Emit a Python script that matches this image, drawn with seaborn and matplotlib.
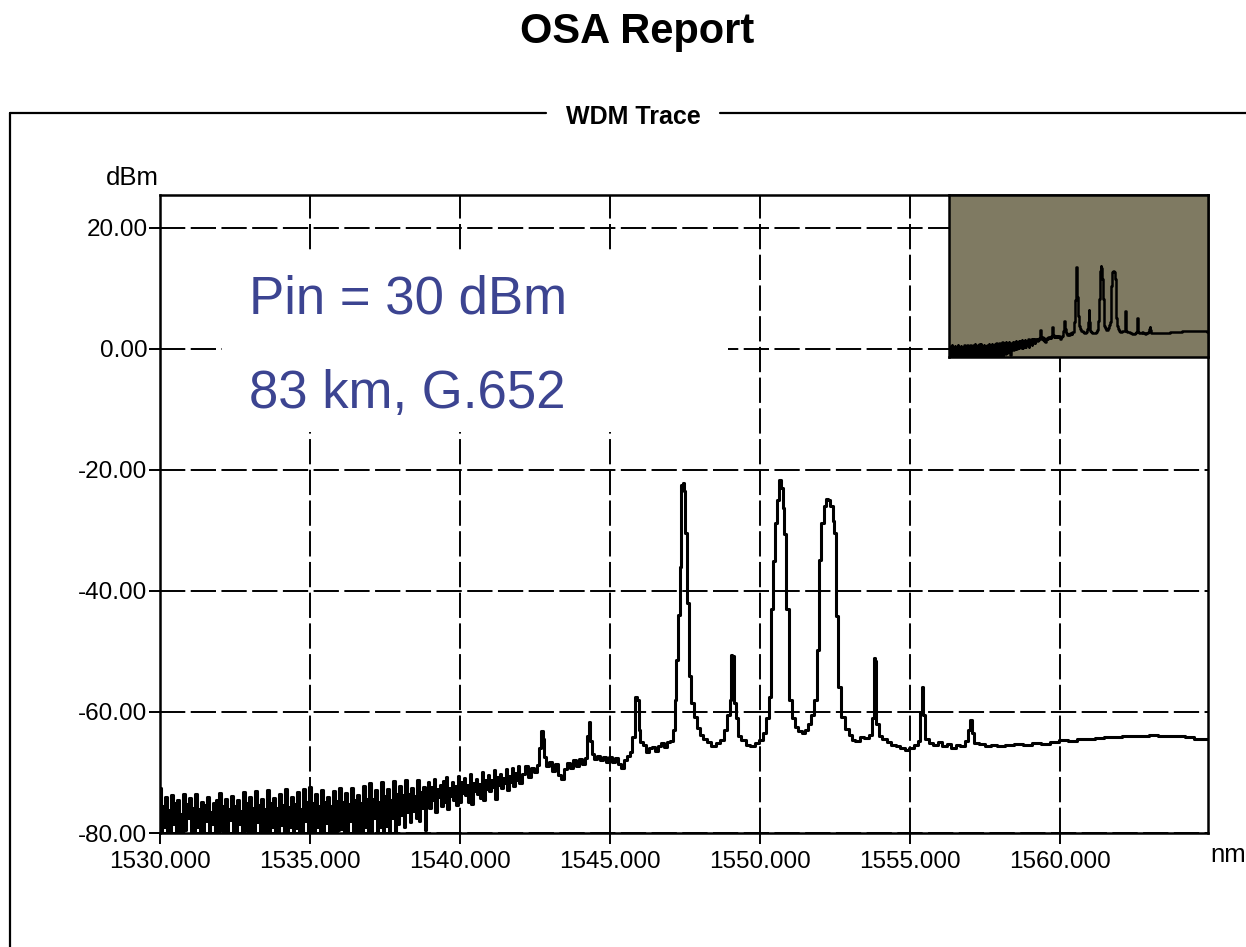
import numpy as np
import pandas as pd
import matplotlib
matplotlib.use("Agg")
import matplotlib.pyplot as plt
import seaborn as sns
from matplotlib.lines import Line2D
from matplotlib.patches import Rectangle

# ---------------- data ----------------
# noisy part of the trace, sampled every 0.05 nm from 1530.00 nm (one row = 1 nm)
noise_start_nm = 1530.0
noise_step_nm = 0.05
noise_dbm = [
    -72.6, -80.5, -75.5, -79.0, -74.0, -81.0, -76.2, -80.5, -73.8, -78.5, -75.0, -81.0, -74.5, -80.0, -76.8, -81.0, -73.6, -79.5, -75.2, -77.5,
    -74.2, -81.0, -75.8, -80.5, -73.5, -79.0, -76.0, -81.0, -74.8, -80.5, -75.4, -78.0, -74.0, -81.0, -76.5, -78.5, -75.0, -81.0, -74.6, -80.5,
    -73.4, -79.5, -75.6, -81.0, -74.3, -80.0, -76.1, -77.8, -73.9, -81.0, -75.5, -80.5, -74.6, -78.5, -76.3, -81.0, -73.2, -79.5, -75.0, -80.5,
    -74.0, -81.0, -75.8, -80.0, -73.1, -78.2, -75.3, -81.0, -74.4, -80.5, -76.0, -79.5, -72.9, -81.0, -75.1, -79.0, -74.2, -80.5, -75.9, -81.0,
    -73.5, -78.6, -75.4, -81.0, -72.8, -80.5, -75.7, -79.0, -74.0, -81.0, -75.2, -79.2, -73.3, -80.5, -76.0, -81.0, -72.7, -78.0, -74.9, -80.5,
    -72.4, -81.0, -75.1, -80.0, -73.6, -79.0, -75.5, -81.0, -72.9, -80.5, -74.8, -78.4, -74.1, -81.0, -75.6, -80.0, -73.0, -81.0, -74.7, -79.5,
    -72.6, -79.3, -74.9, -81.0, -73.4, -80.5, -75.2, -78.0, -72.5, -81.0, -74.6, -79.5, -73.8, -81.0, -75.0, -80.5, -72.3, -79.0, -74.4, -81.0,
    -71.8, -81.0, -74.3, -77.6, -72.9, -80.5, -74.8, -79.0, -71.6, -81.0, -73.9, -78.8, -72.7, -80.5, -74.5, -77.5, -71.4, -80.2, -73.6, -78.5,
    -72.2, -77.0, -73.8, -79.0, -71.3, -76.5, -73.5, -78.2, -72.5, -76.4, -73.9, -77.5, -71.2, -78.0, -73.2, -75.8, -72.4, -79.5, -73.0, -71.6,
    -75.8, -72.4, -74.6, -71.0, -76.5, -72.8, -74.1, -72.0, -75.6, -71.4, -74.8, -70.8, -76.0, -72.6, -73.9, -71.5, -74.5, -72.2, -75.3, -70.6,
    -74.8, -71.6, -73.4, -70.9, -73.8, -72.0, -74.9, -70.2, -75.2, -71.8, -73.1, -71.0, -73.5, -71.9, -74.2, -70.0, -74.6, -71.3, -72.8, -70.4,
    -73.0, -71.2, -72.4, -69.6, -74.3, -70.8, -72.0, -70.2, -72.6, -70.9, -71.8, -69.5, -72.9, -70.6, -71.5, -69.3, -72.2, -70.1, -71.3, -69.0,
    -71.8,
]

# channel / FWM region of the trace
peak_wl_nm = [
    1542.1, 1542.2, 1542.3, 1542.4, 1542.5, 1542.6, 1542.68, 1542.74, 1542.78, 1542.84, 1542.9,
    1543.0, 1543.1, 1543.2, 1543.3, 1543.4, 1543.5, 1543.6, 1543.7, 1543.8, 1543.9,
    1544.0, 1544.1, 1544.2, 1544.26, 1544.31, 1544.36, 1544.42, 1544.5, 1544.6, 1544.7, 1544.8, 1544.9,
    1545.0, 1545.1, 1545.2, 1545.3, 1545.4, 1545.5, 1545.6, 1545.7, 1545.78, 1545.86, 1545.92, 1545.98,
    1546.05, 1546.15, 1546.25, 1546.35, 1546.45, 1546.55, 1546.65, 1546.75, 1546.85, 1546.95,
    1547.05, 1547.12, 1547.18, 1547.24, 1547.3, 1547.35, 1547.4, 1547.44, 1547.48, 1547.53,
    1547.6, 1547.66, 1547.75, 1547.85, 1547.95,
    1548.05, 1548.15, 1548.3, 1548.45, 1548.6, 1548.75, 1548.85, 1548.95, 1549.02, 1549.05,
    1549.1, 1549.15, 1549.22, 1549.3, 1549.45, 1549.6, 1549.75, 1549.9,
    1550.05, 1550.15, 1550.25, 1550.33, 1550.42, 1550.47, 1550.52, 1550.6, 1550.67, 1550.72,
    1550.78, 1550.83, 1550.92, 1551.02, 1551.12, 1551.22, 1551.33, 1551.44, 1551.55, 1551.67,
    1551.75, 1551.83, 1551.94, 1552.0, 1552.09, 1552.15, 1552.22, 1552.3, 1552.39, 1552.45,
    1552.5, 1552.58, 1552.64, 1552.78, 1552.9, 1553.0, 1553.11, 1553.25, 1553.4, 1553.56,
    1553.7, 1553.78, 1553.82, 1553.86, 1553.9, 1554.0, 1554.15, 1554.3, 1554.45, 1554.6,
    1554.75, 1554.9, 1555.05, 1555.2, 1555.3, 1555.37, 1555.42, 1555.47, 1555.55, 1555.7,
    1555.85, 1556.0, 1556.15, 1556.3, 1556.45, 1556.6, 1556.75, 1556.9, 1556.97, 1557.02,
    1557.08, 1557.2, 1557.4, 1557.6, 1557.8, 1558.0, 1558.3, 1558.6, 1558.9, 1559.2,
    1559.5, 1559.8, 1560.1, 1560.4, 1560.7, 1561.0, 1561.3, 1561.6, 1561.9, 1562.2,
    1562.5, 1562.8, 1563.1, 1563.4, 1563.7, 1564.0, 1564.3, 1564.6, 1564.93,
]
peak_dbm = [
    -70.2, -69.0, -70.8, -69.2, -70.0, -68.8, -66.0, -63.2, -64.5, -67.5, -69.0,
    -68.3, -69.8, -68.6, -70.4, -71.0, -69.4, -68.4, -69.2, -68.0, -68.9,
    -67.8, -68.6, -67.6, -64.0, -61.6, -64.8, -67.0, -67.8, -67.2, -68.0, -67.4, -68.3,
    -67.5, -68.2, -67.6, -68.6, -69.2, -68.0, -67.2, -66.6, -64.2, -57.5, -58.0, -63.0,
    -65.0, -65.5, -66.6, -66.0, -65.8, -66.4, -65.6, -65.2, -65.8, -65.0,
    -64.8, -63.0, -58.0, -51.4, -44.0, -36.0, -22.5, -22.2, -23.5, -30.4,
    -42.0, -54.0, -58.5, -60.8, -62.6,
    -63.8, -64.4, -65.0, -65.6, -65.2, -64.6, -63.0, -60.5, -58.0, -50.6,
    -50.8, -58.5, -61.0, -64.0, -64.6, -65.4, -65.6, -65.2,
    -64.6, -63.5, -61.0, -57.5, -43.0, -35.0, -28.8, -25.0, -21.7, -23.0,
    -26.3, -30.5, -43.0, -58.0, -61.0, -62.4, -63.2, -63.5, -63.0, -62.0,
    -60.5, -58.0, -49.8, -34.9, -28.8, -26.0, -24.8, -25.0, -26.0, -28.5,
    -30.4, -44.2, -55.8, -60.8, -62.8, -63.8, -64.6, -64.8, -64.2, -64.3,
    -63.8, -61.0, -51.1, -51.5, -62.0, -64.0, -64.5, -65.0, -65.4, -65.7,
    -66.0, -66.3, -66.0, -65.5, -64.8, -60.0, -55.8, -60.5, -64.5, -65.2,
    -65.4, -65.0, -65.6, -65.3, -66.0, -65.5, -65.6, -64.8, -63.0, -61.3,
    -63.5, -65.1, -65.3, -65.6, -65.5, -65.6, -65.4, -65.3, -65.4, -65.2,
    -65.3, -65.0, -64.7, -64.8, -64.5, -64.5, -64.3, -64.1, -64.2, -64.0,
    -64.0, -63.9, -63.8, -63.9, -63.9, -64.0, -64.1, -64.5, -64.5,
]

x_ticks = [1530, 1535, 1540, 1545, 1550, 1555, 1560]
x_tick_labels = ["1530.000", "1535.000", "1540.000", "1545.000", "1550.000", "1555.000", "1560.000"]
y_ticks = [20, 0, -20, -40, -60, -80]
y_tick_labels = ["20.00", "0.00", "-20.00", "-40.00", "-60.00", "-80.00"]

title_text = "OSA Report"
panel_text = "WDM Trace"
y_unit = "dBm"
x_unit = "nm"
note_lines = ["Pin = 30 dBm", "83 km, G.652"]

# ---------------- build ----------------
assert len(noise_dbm) == 241, len(noise_dbm)
assert len(peak_wl_nm) == len(peak_dbm), (len(peak_wl_nm), len(peak_dbm))
noise_wl = np.round(noise_start_nm + noise_step_nm * np.arange(len(noise_dbm)), 3)
df = pd.DataFrame({
    "wl": np.concatenate([noise_wl, np.array(peak_wl_nm)]),
    "dbm": np.concatenate([np.array(noise_dbm), np.array(peak_dbm)]),
})

sns.set_theme(style="white")
plt.rcParams["font.family"] = ["Liberation Sans", "DejaVu Sans"]
plt.rcParams["text.color"] = "black"

W, H = 1246, 947
fig = plt.figure(figsize=(W / 100, H / 100), dpi=100)
fig.patch.set_facecolor("white")

def fx(px):
    return px / W

def fy(py):
    return 1 - py / H

# main axes
ax = fig.add_axes([fx(160), fy(833), fx(1208) - fx(160), fy(195) - fy(833)])
ax.set_facecolor("white")
sns.lineplot(data=df, x="wl", y="dbm", ax=ax, color="black", linewidth=2.2,
             estimator=None, sort=False, drawstyle="steps-mid", zorder=3)
ax.set_xlim(1530, 1564.93)
ax.set_ylim(-80, 25.45)
ax.set_xticks(x_ticks)
ax.set_xticklabels(x_tick_labels)
ax.set_yticks(y_ticks)
ax.set_yticklabels(y_tick_labels)
ax.set_xlabel("")
ax.set_ylabel("")
ax.grid(True, color="black", linewidth=1.4, linestyle=(0, (13, 2.8)), zorder=1)
ax.set_axisbelow(True)
for s in ax.spines.values():
    s.set_visible(True)
    s.set_color("black")
    s.set_linewidth(1.8)
ax.tick_params(axis="both", direction="out", length=8, width=1.4, colors="black",
               labelsize=17.5, bottom=True, left=True)
ax.tick_params(axis="y", pad=1)
ax.tick_params(axis="x", pad=5)

# inset overview
ins = fig.add_axes([fx(949), fy(357), fx(1208) - fx(949), fy(195) - fy(357)])
ins.set_facecolor("#7f7a62")
sns.lineplot(data=df, x="wl", y="dbm", ax=ins, color="black", linewidth=1.8,
             estimator=None, sort=False, drawstyle="steps-mid")
ins.set_xlim(1530.8, 1564.6)
ins.set_ylim(-81, 24.4)
ins.set_xticks([])
ins.set_yticks([])
ins.set_xlabel("")
ins.set_ylabel("")
ins.grid(False)
for s in ins.spines.values():
    s.set_visible(True)
    s.set_color("black")
    s.set_linewidth(1.8)

# annotation box
fig.add_artist(Rectangle((fx(222), fy(432)), fx(728) - fx(222), fy(250) - fy(432),
                         transform=fig.transFigure, facecolor="white", edgecolor="none", zorder=5))
fig.text(fx(249), fy(313), note_lines[0], fontsize=38, color="#3c4491", ha="left", va="baseline", zorder=6)
fig.text(fx(249), fy(408), note_lines[1], fontsize=38, color="#3c4491", ha="left", va="baseline", zorder=6)

# outer frame with label
frame_y = fy(113)
fig.add_artist(Line2D([fx(10), fx(10)], [0, frame_y], transform=fig.transFigure, color="black", lw=1.6))
fig.add_artist(Line2D([fx(10), fx(546)], [frame_y, frame_y], transform=fig.transFigure, color="black", lw=1.6))
fig.add_artist(Line2D([fx(720), 1.0], [frame_y, frame_y], transform=fig.transFigure, color="black", lw=1.6))
fig.text(fx(633), fy(124), panel_text, fontsize=18, fontweight="bold", color="black", ha="center", va="baseline")

# title and unit labels
fig.text(fx(637), fy(43), title_text, fontsize=30, fontweight="bold", color="black", ha="center", va="baseline")
fig.text(fx(159), fy(185), y_unit, fontsize=18.5, color="black", ha="right", va="baseline")
fig.text(fx(1210), fy(862), x_unit, fontsize=18.5, color="black", ha="left", va="baseline")

fig.savefig("out.png", dpi=100)
